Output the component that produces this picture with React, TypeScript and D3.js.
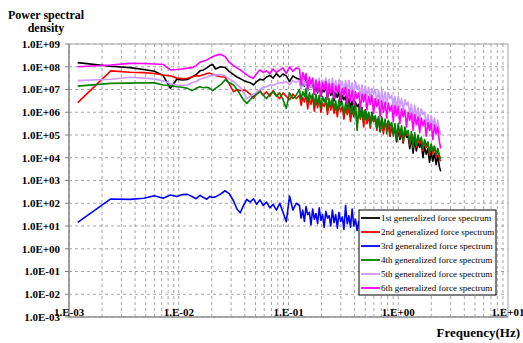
import React from "react";
import * as d3 from "d3";

const W = 523;
const H = 343;

// Frequencies (Hz) shared by all six spectra
const freq = [
  0.0012, 0.0024, 0.0036, 0.0048, 0.006, 0.0072, 0.0084, 0.0096, 0.0108, 0.012,
  0.0132, 0.0144, 0.0156, 0.0168, 0.018, 0.0192, 0.0204, 0.0216, 0.024, 0.0264, 0.0288,
  0.0316, 0.0339, 0.0363, 0.0389, 0.0417, 0.0447, 0.0479, 0.0513, 0.055, 0.0589,
  0.0631, 0.0676, 0.0724, 0.0776, 0.0832, 0.0891, 0.0955, 0.1023, 0.1096, 0.1175,
  0.1259, 0.1303, 0.1349, 0.1396, 0.1445, 0.1496, 0.1549, 0.1603, 0.166, 0.1718,
  0.1778, 0.1841, 0.1905, 0.1972, 0.2042, 0.2113, 0.2188, 0.2265, 0.2344, 0.2427,
  0.2512, 0.26, 0.2692, 0.2786, 0.2884, 0.2985, 0.309, 0.3199, 0.3311, 0.3428,
  0.3548, 0.3673, 0.3802, 0.3936, 0.4074, 0.4217, 0.4365, 0.4519, 0.4677, 0.4842,
  0.5012, 0.5188, 0.537, 0.5559, 0.5754, 0.5957, 0.6166, 0.6383, 0.6607, 0.6839,
  0.7079, 0.7328, 0.7586, 0.7852, 0.8128, 0.8414, 0.871, 0.9016, 0.9333, 0.9661,
  1.0, 1.0351, 1.0715, 1.1092, 1.1482, 1.1885, 1.2303, 1.2735, 1.3183, 1.3646,
  1.4125, 1.4622, 1.5136, 1.5668, 1.6218, 1.6788, 1.7378, 1.7989, 1.8621, 1.9275,
  1.9953, 2.0654, 2.138, 2.2131, 2.2909, 2.3714, 2.4378,
];

// log10 of power spectral density, one array per generalized force spectrum
const psd1Log = [
  8.18, 8.02, 7.96, 7.88, 7.8, 7.62, 7.05, 7.45, 7.42, 7.44,
  7.55, 7.65, 7.82, 7.86, 7.95, 8.05, 8.1, 7.9, 8.0, 7.97, 7.8,
  7.65, 7.55, 7.48, 7.4, 7.34, 7.3, 7.2, 7.35, 7.45, 7.42,
  7.55, 7.62, 7.5, 7.7, 7.55, 7.68, 7.6, 7.35, 7.6, 7.5,
  7.45, 7.05, 7.4, 7.15, 7.5, 6.95, 7.3, 7.1, 7.35, 6.8,
  7.2, 6.85, 7.25, 6.7, 7.0, 6.9, 7.15, 6.6, 7.05, 6.75,
  6.95, 6.5, 6.85, 6.65, 6.9, 6.35, 6.75, 6.55, 6.7, 6.1,
  6.6, 6.2, 6.5, 5.95, 6.45, 6.25, 6.35, 5.8, 6.2, 5.65,
  6.1, 5.7, 5.95, 5.5, 6.0, 5.6, 5.8, 5.3, 5.75, 5.15,
  5.7, 5.2, 5.55, 5.35, 5.6, 4.95, 5.4, 5.05, 5.3, 4.7,
  5.3, 4.8, 5.15, 4.65, 5.2, 4.9, 4.95, 4.4, 4.9, 4.2,
  4.8, 4.3, 4.65, 4.45, 4.7, 4.0, 4.5, 4.15, 4.4, 3.8,
  4.3, 3.85, 4.2, 3.7, 4.1, 3.6, 3.4,
];
const psd2Log = [
  6.42, 7.82, 7.76, 7.74, 7.7, 7.64, 7.6, 7.5, 7.48, 7.49,
  7.55, 7.6, 7.6, 7.65, 7.7, 7.72, 7.66, 7.62, 7.56, 7.55, 7.25,
  6.9, 7.0, 6.95, 6.98, 6.92, 6.8, 6.62, 6.8, 6.95, 6.75,
  6.9, 6.7, 6.95, 6.75, 6.6, 6.85, 6.7, 6.55, 6.8, 6.6,
  6.75, 6.3, 6.65, 6.45, 6.8, 6.15, 6.6, 6.35, 6.7, 6.05,
  6.55, 6.2, 6.6, 6.0, 6.4, 6.25, 6.5, 5.9, 6.45, 6.1,
  6.4, 5.95, 6.3, 5.8, 6.35, 6.05, 6.25, 5.7, 6.2, 5.9,
  6.2, 5.6, 6.1, 5.85, 6.15, 5.45, 6.0, 5.7, 6.05, 5.35,
  5.95, 5.5, 5.85, 5.3, 5.9, 5.6, 5.75, 5.2, 5.7, 5.4,
  5.65, 5.05, 5.6, 5.3, 5.5, 4.95, 5.45, 5.15, 5.4, 4.8,
  5.4, 4.9, 5.3, 4.7, 5.25, 5.0, 5.1, 4.55, 5.05, 4.75,
  5.0, 4.45, 4.9, 4.6, 4.85, 4.3, 4.75, 4.45, 4.65, 4.1,
  4.6, 4.2, 4.5, 4.05, 4.4, 3.95, 3.85,
];
const psd3Log = [
  1.16, 2.19, 2.17, 2.22, 2.33, 2.22, 2.36, 2.3, 2.38, 2.39,
  2.3, 2.2, 2.35, 2.25, 2.18, 2.3, 2.25, 2.28, 2.4, 2.55, 2.42,
  2.1, 1.75, 1.58, 1.9, 2.17, 2.05, 2.2, 1.95, 2.15, 1.9,
  2.05, 1.8, 1.95, 1.7, 2.0, 1.6, 1.19, 2.32, 1.7, 2.0,
  1.9, 1.35, 1.7, 1.2, 1.85, 1.5, 1.6, 1.05, 1.75, 1.3,
  1.55, 1.1, 1.8, 1.25, 1.5, 0.95, 1.65, 1.35, 1.45, 1.0,
  1.7, 1.15, 1.5, 0.9, 1.6, 1.2, 1.4, 0.85, 1.9, 1.1,
  1.45, 0.95, 1.75, 1.0, 1.3, 0.8, 1.2, 0.9, 1.1, 0.7,
  1.0, 0.6, 0.95, 0.55, 0.9, 0.5, 0.85, 0.45, 0.8, 0.4,
  0.75, 0.35, 0.7, 0.3, 0.65, 0.25, 0.6, 0.2, 0.55, 0.15,
  0.5, 0.1, 0.45, 0.05, 0.4, 0.0, 0.35, -0.05, 0.3, -0.1,
  0.25, -0.15, 0.2, -0.2, 0.15, -0.25, 0.1, -0.3, 0.05, -0.35,
  0.0, -0.4, -0.05, -0.45, -0.1, -0.5, -0.55,
];
const psd4Log = [
  7.15, 7.27, 7.28, 7.3, 7.29, 7.2, 7.18, 7.12, 7.1, 7.05,
  6.95, 7.05, 7.12, 7.08, 7.1, 7.05, 6.95, 7.05, 7.2, 7.42, 7.3,
  7.2, 7.0, 6.78, 6.55, 6.39, 6.55, 6.7, 6.8, 6.9, 6.75,
  6.6, 6.8, 6.9, 6.7, 6.85, 6.55, 6.17, 6.85, 6.6, 6.75,
  7.0, 6.55, 6.9, 6.7, 7.05, 6.4, 6.85, 6.6, 6.8, 6.3,
  6.8, 6.35, 6.75, 6.2, 6.7, 6.45, 6.65, 6.1, 6.6, 6.3,
  6.6, 6.15, 6.5, 6.0, 6.55, 6.3, 6.45, 5.9, 6.4, 6.1,
  6.4, 5.95, 6.3, 5.8, 6.35, 5.2, 6.2, 5.75, 6.2, 5.6,
  6.1, 5.7, 6.0, 5.45, 5.95, 5.6, 5.85, 5.3, 5.8, 5.15,
  5.8, 5.3, 5.7, 5.05, 5.65, 5.4, 5.55, 4.95, 5.5, 4.8,
  5.5, 5.0, 5.4, 4.75, 5.35, 5.05, 5.2, 4.6, 5.15, 4.45,
  5.1, 4.55, 5.0, 4.7, 4.9, 4.4, 4.8, 4.55, 4.7, 4.2,
  4.6, 4.3, 4.5, 4.15, 4.4, 4.1, 3.95,
];
const psd5Log = [
  7.39, 7.45, 7.54, 7.5, 7.46, 7.38, 7.25, 7.2, 7.18, 7.2,
  7.3, 7.35, 7.45, 7.5, 7.55, 7.6, 7.62, 7.64, 7.66, 7.6, 7.48,
  7.35, 7.2, 7.1, 6.85, 6.6, 6.7, 6.8, 6.88, 7.0, 7.1,
  7.12, 7.2, 7.18, 7.25, 7.3, 7.28, 7.35, 7.2, 7.4, 7.3,
  7.4, 7.05, 7.45, 7.2, 7.35, 6.95, 7.45, 7.1, 7.4, 7.0,
  7.45, 7.1, 7.5, 6.95, 7.4, 7.2, 7.5, 7.0, 7.45, 6.9,
  7.5, 7.05, 7.4, 6.9, 7.45, 7.15, 7.35, 6.85, 7.4, 6.95,
  7.4, 6.9, 7.3, 6.8, 7.35, 7.0, 7.2, 6.7, 7.2, 6.6,
  7.15, 6.7, 7.1, 6.55, 7.05, 6.8, 7.0, 6.45, 6.95, 6.4,
  6.95, 6.45, 6.9, 6.35, 6.85, 6.6, 6.75, 6.2, 6.7, 6.1,
  6.7, 6.25, 6.6, 6.05, 6.55, 6.3, 6.45, 5.9, 6.35, 5.7,
  6.3, 5.8, 6.2, 5.65, 6.15, 5.9, 6.0, 5.45, 5.9, 5.3,
  5.85, 5.4, 5.75, 5.25, 5.65, 5.2, 5.0,
];
const psd6Log = [
  8.0, 8.08, 8.15, 8.14, 8.12, 8.1, 7.86, 7.88, 7.9, 7.94,
  7.96, 8.05, 8.2, 8.25, 8.3, 8.38, 8.44, 8.5, 8.55, 8.45, 8.2,
  8.05, 7.95, 7.86, 7.75, 7.64, 7.55, 7.49, 7.7, 7.86, 7.75,
  7.82, 7.7, 7.9, 7.75, 7.85, 7.95, 7.7, 8.0, 7.8, 7.95,
  7.9, 7.2, 7.75, 7.45, 7.7, 7.0, 7.55, 7.25, 7.5, 6.8,
  7.4, 6.9, 7.35, 6.7, 7.3, 7.0, 7.35, 6.6, 7.25, 6.85,
  7.25, 6.6, 7.15, 6.85, 7.2, 6.5, 7.05, 6.75, 7.1, 6.35,
  7.0, 6.5, 6.95, 6.3, 6.9, 6.6, 6.85, 6.15, 6.8, 6.45,
  6.8, 6.1, 6.7, 6.35, 6.75, 5.95, 6.6, 6.25, 6.55, 5.8,
  6.5, 6.0, 6.45, 5.75, 6.4, 6.05, 6.3, 5.6, 6.3, 5.85,
  6.25, 5.5, 6.15, 5.8, 6.1, 5.35, 6.0, 5.65, 5.95, 5.2,
  5.9, 5.45, 5.8, 5.1, 5.75, 5.4, 5.65, 4.95, 5.55, 5.2,
  5.5, 4.8, 5.45, 5.05, 5.35, 4.7, 4.4,
];

const seriesNames = [
  "1st generalized force spectrum",
  "2nd generalized force spectrum",
  "3rd generalized force spectrum",
  "4th generalized force spectrum",
  "5th generalized force spectrum",
  "6th generalized force spectrum",
];
const seriesColors = ["#000000", "#ff0000", "#0000ff", "#008000", "#cc99ff", "#ff00ff"];
const seriesLog = [psd1Log, psd2Log, psd3Log, psd4Log, psd5Log, psd6Log];

const yTickLabels = [
  "1.0E+09", "1.0E+08", "1.0E+07", "1.0E+06", "1.0E+05", "1.0E+04", "1.0E+03",
  "1.0E+02", "1.0E+01", "1.0E+00", "1.0E-01", "1.0E-02", "1.0E-03",
];
const yTickValues = [1e9, 1e8, 1e7, 1e6, 1e5, 1e4, 1e3, 1e2, 1e1, 1e0, 1e-1, 1e-2, 1e-3];
const xTickLabels = ["1.E-03", "1.E-02", "1.E-01", "1.E+00", "1.E+01"];
const xTickValues = [1e-3, 1e-2, 1e-1, 1, 10];

const SERIF = "'Liberation Serif', 'Times New Roman', serif";

export default function App() {
  const left = 69, right = 508, top = 44, bottom = 317;
  const x = d3.scaleLog().domain([1e-3, 10]).range([left, right]);
  const y = d3.scaleLog().domain([1e-3, 1e9]).range([bottom, top]);

  const minorX: number[] = [];
  for (let e = -3; e <= 0; e++) {
    for (let m = 1; m <= 9; m++) minorX.push(m * Math.pow(10, e));
  }

  const line = d3
    .line<[number, number]>()
    .x((d) => x(d[0]))
    .y((d) => y(d[1]));

  return (
    <svg
      width={W}
      height={H}
      style={{ position: "absolute", left: 0, top: 0, background: "#fff" }}
      fontFamily={SERIF}
    >
      <rect x={0} y={0} width={W} height={H} fill="#fff" />
      {minorX.map((f, i) => (
        <line
          key={"vx" + i}
          x1={x(f)}
          x2={x(f)}
          y1={top}
          y2={bottom}
          stroke="#a6a6a6"
          strokeDasharray="3,3"
          strokeWidth={1}
        />
      ))}
      {yTickValues.map((v, i) => (
        <line
          key={"hy" + i}
          x1={left}
          x2={right}
          y1={y(v)}
          y2={y(v)}
          stroke="#a6a6a6"
          strokeDasharray="3,3"
          strokeWidth={1}
        />
      ))}
      <rect x={left} y={top} width={right - left} height={bottom - top} fill="none" stroke="#b4b4b4" strokeWidth={1.2} />
      <line x1={left} x2={left} y1={top} y2={bottom} stroke="#808080" strokeWidth={1.2} />
      <line x1={left} x2={right} y1={bottom} y2={bottom} stroke="#808080" strokeWidth={1.2} />
      {yTickValues.map((v, i) => (
        <line key={"yt" + i} x1={left - 4} x2={left} y1={y(v)} y2={y(v)} stroke="#808080" />
      ))}
      {seriesLog.map((vals, si) => {
        const n = Math.min(vals.length, freq.length);
        const pts: [number, number][] = [];
        for (let i = 0; i < n; i++) pts.push([freq[i], Math.pow(10, vals[i])]);
        return (
          <path
            key={"s" + si}
            d={line(pts) || ""}
            fill="none"
            stroke={seriesColors[si]}
            strokeWidth={1.6}
            strokeLinejoin="round"
          />
        );
      })}
      {yTickValues.map((v, i) => (
        <text key={"yl" + i} x={60} y={y(v)} dy="0.35em" textAnchor="end" fontSize={11} fontWeight="bold">
          {yTickLabels[i]}
        </text>
      ))}
      {xTickValues.map((v, i) => (
        <text key={"xl" + i} x={x(v)} y={316} textAnchor="middle" fontSize={11} fontWeight="bold">
          {xTickLabels[i]}
        </text>
      ))}
      <text x={46} y={19} textAnchor="middle" fontSize={12} fontWeight="bold">
        Power spectral
      </text>
      <text x={46} y={32} textAnchor="middle" fontSize={12} fontWeight="bold">
        density
      </text>
      <text x={520} y={337} textAnchor="end" fontSize={13} fontWeight="bold">
        Frequency(Hz)
      </text>
      <rect x={359} y={210} width={137} height={85} fill="#fff" stroke="#000" strokeWidth={1} />
      {seriesNames.map((name, i) => (
        <g key={"lg" + i}>
          <line x1={361} x2={380} y1={218 + i * 14} y2={218 + i * 14} stroke={seriesColors[i]} strokeWidth={1.8} />
          <text x={381} y={218 + i * 14} dy="0.35em" fontSize={9}>
            {name}
          </text>
        </g>
      ))}
    </svg>
  );
}
